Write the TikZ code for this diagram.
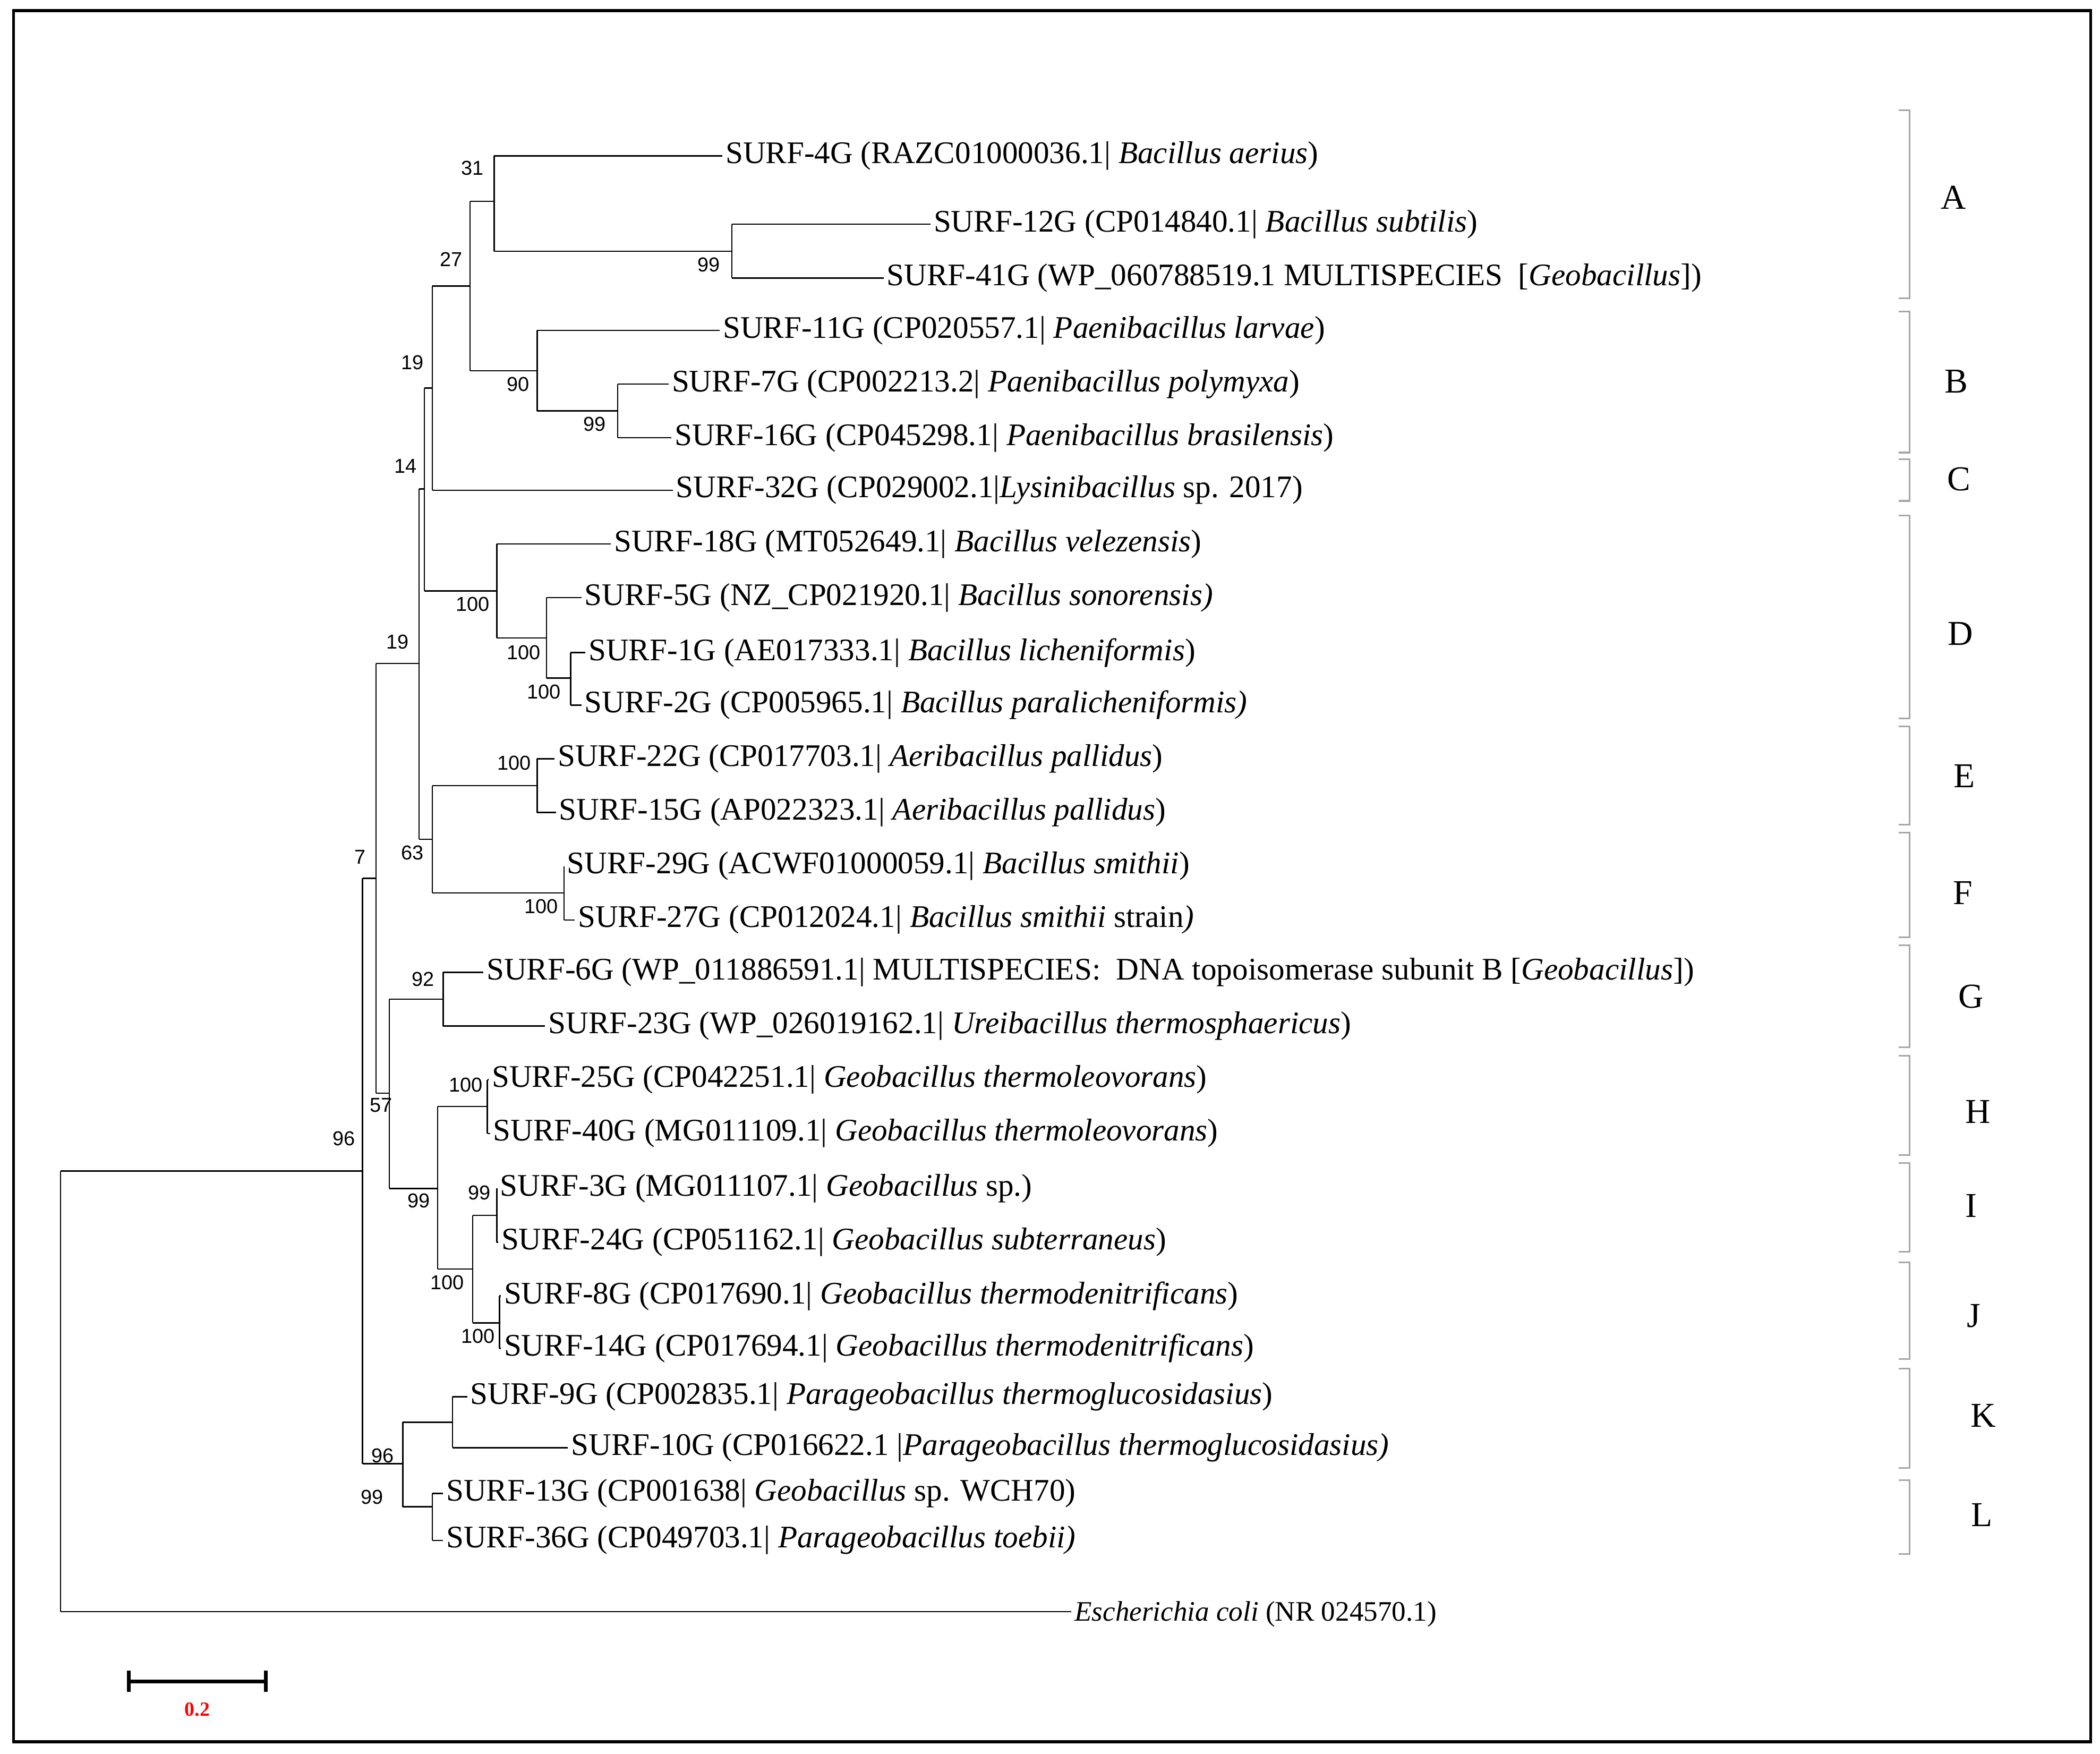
\documentclass[tikz,border=0pt]{standalone}
\usepackage{fontspec}
\setmainfont{Liberation Serif}
\newfontfamily\numfont{Liberation Sans}
\begin{document}
\begin{tikzpicture}[x=0.5pt,y=-0.5pt,
  br/.style={line width=0.5pt},
  lf/.style={anchor=west,inner sep=1pt,font=\fontsize{11.7}{13}\selectfont},
  bs/.style={font=\numfont\fontsize{7.5}{9}\selectfont,inner sep=0pt},
  grp/.style={font=\fontsize{13}{15}\selectfont,inner sep=0pt},
  brk/.style={draw=gray!70,line width=0.6pt}]
\useasboundingbox (0,0) rectangle (1564,1306);
\draw[line width=1.1pt] (10,8) rectangle (1557,1297);
% clades: parent x, y top, y bottom
\foreach \px/\ya/\yb in {45/872/1200,270/654/1090,300/1059/1122,337/1040/1078,322/1112/1147,
 280/494/814,312/364/625,316/289/440,322/213/365,350/150/276,368/116/187,545/167/207,
 400/246/306,460/286/326,370/405/475,407/445/505,425/486/525,322/585/665,400/565/605,
 420/645/685,290/744/885,330/724/764,326/824/945,363/804/844,352/905/985,370/885/925,372/965/1004}
  \draw[br] (\px,\ya) -- (\px,\yb);
% branches: parent x, child x, y
\foreach \px/\cx/\cy in {45/270/872,45/798/1200,270/280/654,270/300/1090,300/337/1059,300/322/1122,
 337/348/1040,337/423/1078,322/330/1112,322/330/1147,280/312/494,280/290/814,312/316/364,312/322/625,
 316/322/289,316/370/440,322/350/213,322/501/365,350/368/150,350/400/276,368/538/116,368/545/187,
 545/693/167,545/658/207,400/536/246,400/460/306,460/498/286,460/500/326,370/455/405,370/407/475,
 407/433/445,407/425/505,425/436/486,425/433/525,322/400/585,322/420/665,400/413/565,400/414/605,
 420/420/645,420/428/685,290/330/744,290/326/885,330/360/724,330/406/764,326/363/824,326/352/945,
 363/364/804,363/365/844,352/370/905,352/372/985,370/370/885,370/371/925,372/373/965,372/373/1004}
  \draw[br] (\px,\cy) -- (\cx,\cy);
% leaves
\node[lf] (l4) at (538,116) {SURF-4G (RAZC01000036.1| \textit{Bacillus aerius})};
\node[lf] (l12) at (693,167) {SURF-12G (CP014840.1| \textit{Bacillus subtilis})};
\node[lf] (l41) at (658,207) {SURF-41G (WP\_060788519.1 MULTISPECIES \ [\textit{Geobacillus}])};
\node[lf] (l11) at (536,246) {SURF-11G (CP020557.1| \textit{Paenibacillus larvae})};
\node[lf] (l7) at (498,286) {SURF-7G (CP002213.2| \textit{Paenibacillus polymyxa})};
\node[lf] (l16) at (500,326) {SURF-16G (CP045298.1| \textit{Paenibacillus brasilensis})};
\node[lf] (l32) at (501,365) {SURF-32G (CP029002.1|\textit{Lysinibacillus} sp. 2017)};
\node[lf] (l18) at (455,405) {SURF-18G (MT052649.1| \textit{Bacillus velezensis})};
\node[lf] (l5) at (433,445) {SURF-5G (NZ\_CP021920.1| \textit{Bacillus sonorensis)}};
\node[lf] (l1) at (436,486) {SURF-1G (AE017333.1| \textit{Bacillus licheniformis})};
\node[lf] (l2) at (433,525) {SURF-2G (CP005965.1| \textit{Bacillus paralicheniformis)}};
\node[lf] (l22) at (413,565) {SURF-22G (CP017703.1| \textit{Aeribacillus pallidus})};
\node[lf] (l15) at (414,605) {SURF-15G (AP022323.1| \textit{Aeribacillus pallidus})};
\node[lf] (l29) at (420,645) {SURF-29G (ACWF01000059.1| \textit{Bacillus smithii})};
\node[lf] (l27) at (428,685) {SURF-27G (CP012024.1| \textit{Bacillus smithii} strain\textit{)}};
\node[lf] (l6) at (360,724) {SURF-6G (WP\_011886591.1| MULTISPECIES: \ DNA topoisomerase subunit B [\textit{Geobacillus}])};
\node[lf] (l23) at (406,764) {SURF-23G (WP\_026019162.1| \textit{Ureibacillus thermosphaericus})};
\node[lf] (l25) at (364,804) {SURF-25G (CP042251.1| \textit{Geobacillus thermoleovorans})};
\node[lf] (l40) at (365,844) {SURF-40G (MG011109.1| \textit{Geobacillus thermoleovorans})};
\node[lf] (l3) at (370,885) {SURF-3G (MG011107.1| \textit{Geobacillus} sp.)};
\node[lf] (l24) at (371,925) {SURF-24G (CP051162.1| \textit{Geobacillus subterraneus})};
\node[lf] (l8) at (373,965) {SURF-8G (CP017690.1| \textit{Geobacillus thermodenitrificans})};
\node[lf] (l14) at (373,1004) {SURF-14G (CP017694.1| \textit{Geobacillus thermodenitrificans})};
\node[lf] (l9) at (348,1040) {SURF-9G (CP002835.1| \textit{Parageobacillus thermoglucosidasius})};
\node[lf] (l10) at (423,1078) {SURF-10G (CP016622.1 |\textit{Parageobacillus thermoglucosidasius)}};
\node[lf] (l13) at (330,1112) {SURF-13G (CP001638| \textit{Geobacillus} sp. WCH70)};
\node[lf] (l36) at (330,1147) {SURF-36G (CP049703.1| \textit{Parageobacillus toebii)}};
\node[lf,font=\fontsize{10.5}{12}\selectfont] (lec) at (798,1202) {\textit{Escherichia coli} (NR 024570.1)};
% bootstrap
\foreach \t/\x/\y [count=\i] in {31/352/125,99/528/197,27/336/193,90/386/286,99/443/316,19/307/270,
 100/405/515,100/390/486,100/352/450,14/302/347,100/383/568,100/403/675,63/307/635,19/296/478,
 92/315/729,100/347/808,99/357/888,100/356/995,100/333/955,99/312/894,57/284/823,7/268/638,
 96/256/848,96/285/1084,99/277/1115}
  \node[bs] (b\i) at (\x,\y) {\t};
% brackets
\foreach \L/\ya/\yb/\lx/\ly in {A/82/222/1455/147,B/232/337/1457/284,C/342/373/1459/357,D/384/535/1460/472,
 E/541/614/1463/578,F/620/698/1462/665,G/704/780/1468/742,H/786/860/1473/828,I/866/932/1468/898,
 J/940/1012/1470/980,K/1019/1093/1477/1054,L/1102/1157/1476/1128}{
  \draw[brk] (1414,\ya) -- (1422,\ya) -- (1422,\yb) -- (1414,\yb);
  \node[grp] (g\L) at (\lx,\ly) {\L};}
% scale bar
\coordinate (s1) at (96,1252); \coordinate (s2) at (198,1252);
\draw[line width=1.4pt] (s1) -- (s2);
\draw[line width=1.4pt] (96,1244) -- (96,1260) (198,1244) -- (198,1260);
\node[font=\bfseries\fontsize{7.5}{9}\selectfont,text=red,inner sep=0pt] (sl) at (147,1273) {0.2};
\end{tikzpicture}
\end{document}
